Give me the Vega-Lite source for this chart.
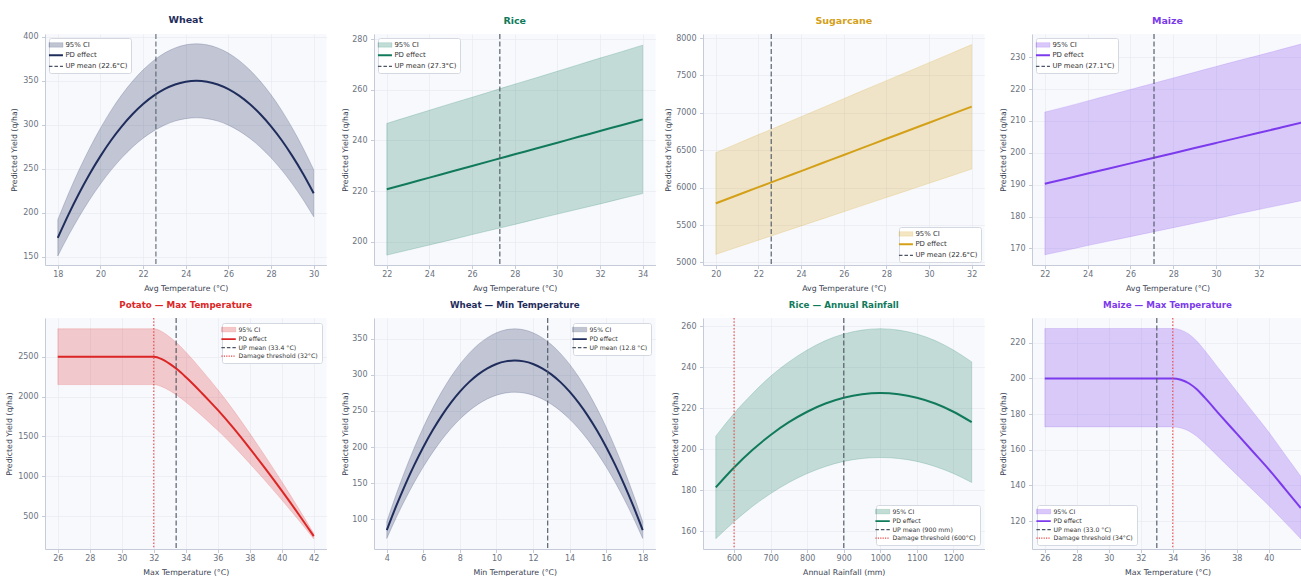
{
  "$schema": "https://vega.github.io/schema/vega-lite/v6.json",
  "padding": {"left": 5, "top": 15, "right": 0, "bottom": 0},
  "background": "#ffffff",
  "columns": 4,
  "bounds": "flush",
  "spacing": {"row": 53, "column": 47},
  "resolve": {"scale": {"color": "independent", "x": "independent", "y": "independent"}, "legend": {"color": "independent"}, "axis": {"x": "independent", "y": "independent"}},
  "datasets": {
    "wheat": [
      {"x": 18, "mean": 171.7, "lo": 151.1, "hi": 192.3},
      {"x": 18.5, "mean": 198.1, "lo": 174.3, "hi": 221.9},
      {"x": 19, "mean": 222.3, "lo": 195.6, "hi": 249.0},
      {"x": 19.5, "mean": 244.5, "lo": 215.2, "hi": 273.8},
      {"x": 20, "mean": 264.5, "lo": 232.8, "hi": 296.2},
      {"x": 20.5, "mean": 282.5, "lo": 248.6, "hi": 316.4},
      {"x": 21, "mean": 298.3, "lo": 262.5, "hi": 334.1},
      {"x": 21.5, "mean": 312.0, "lo": 274.6, "hi": 349.4},
      {"x": 22, "mean": 323.6, "lo": 284.8, "hi": 362.4},
      {"x": 22.5, "mean": 333.1, "lo": 293.1, "hi": 373.1},
      {"x": 23, "mean": 340.5, "lo": 299.6, "hi": 381.4},
      {"x": 23.5, "mean": 345.8, "lo": 304.3, "hi": 387.3},
      {"x": 24, "mean": 348.9, "lo": 307.0, "hi": 390.8},
      {"x": 24.5, "mean": 350.0, "lo": 308.0, "hi": 392.0},
      {"x": 25, "mean": 348.9, "lo": 307.0, "hi": 390.8},
      {"x": 25.5, "mean": 345.8, "lo": 304.3, "hi": 387.3},
      {"x": 26, "mean": 340.5, "lo": 299.6, "hi": 381.4},
      {"x": 26.5, "mean": 333.1, "lo": 293.1, "hi": 373.1},
      {"x": 27, "mean": 323.6, "lo": 284.8, "hi": 362.4},
      {"x": 27.5, "mean": 312.0, "lo": 274.6, "hi": 349.4},
      {"x": 28, "mean": 298.3, "lo": 262.5, "hi": 334.1},
      {"x": 28.5, "mean": 282.5, "lo": 248.6, "hi": 316.4},
      {"x": 29, "mean": 264.5, "lo": 232.8, "hi": 296.2},
      {"x": 29.5, "mean": 244.5, "lo": 215.2, "hi": 273.8},
      {"x": 30, "mean": 222.3, "lo": 195.6, "hi": 249.0}
    ],
    "rice": [
      {"x": 22, "mean": 220.7, "lo": 194.7, "hi": 246.7},
      {"x": 23, "mean": 223.0, "lo": 196.7, "hi": 249.3},
      {"x": 24, "mean": 225.3, "lo": 198.7, "hi": 251.9},
      {"x": 25, "mean": 227.6, "lo": 200.7, "hi": 254.5},
      {"x": 26, "mean": 229.9, "lo": 202.8, "hi": 257.0},
      {"x": 27, "mean": 232.2, "lo": 204.8, "hi": 259.6},
      {"x": 28, "mean": 234.5, "lo": 206.8, "hi": 262.2},
      {"x": 29, "mean": 236.8, "lo": 208.9, "hi": 264.7},
      {"x": 30, "mean": 239.1, "lo": 210.9, "hi": 267.3},
      {"x": 31, "mean": 241.4, "lo": 212.9, "hi": 269.9},
      {"x": 32, "mean": 243.7, "lo": 214.9, "hi": 272.5},
      {"x": 33, "mean": 246.0, "lo": 217.0, "hi": 275.0},
      {"x": 34, "mean": 248.3, "lo": 219.0, "hi": 277.6}
    ],
    "sugar": [
      {"x": 20, "mean": 5790, "lo": 5107, "hi": 6467},
      {"x": 21, "mean": 5898, "lo": 5202, "hi": 6588},
      {"x": 22, "mean": 6006, "lo": 5297, "hi": 6709},
      {"x": 23, "mean": 6113, "lo": 5392, "hi": 6828},
      {"x": 24, "mean": 6221, "lo": 5487, "hi": 6949},
      {"x": 25, "mean": 6329, "lo": 5582, "hi": 7069},
      {"x": 26, "mean": 6437, "lo": 5677, "hi": 7190},
      {"x": 27, "mean": 6545, "lo": 5773, "hi": 7311},
      {"x": 28, "mean": 6653, "lo": 5868, "hi": 7431},
      {"x": 29, "mean": 6760, "lo": 5962, "hi": 7551},
      {"x": 30, "mean": 6868, "lo": 6058, "hi": 7672},
      {"x": 31, "mean": 6976, "lo": 6153, "hi": 7792},
      {"x": 32, "mean": 7084, "lo": 6248, "hi": 7913}
    ],
    "maize": [
      {"x": 22, "mean": 190.3, "lo": 168.0, "hi": 212.8},
      {"x": 23, "mean": 191.9, "lo": 169.4, "hi": 214.5},
      {"x": 24, "mean": 193.5, "lo": 170.9, "hi": 216.3},
      {"x": 25, "mean": 195.1, "lo": 172.3, "hi": 218.1},
      {"x": 26, "mean": 196.7, "lo": 173.7, "hi": 219.9},
      {"x": 27, "mean": 198.3, "lo": 175.1, "hi": 221.7},
      {"x": 28, "mean": 199.9, "lo": 176.5, "hi": 223.5},
      {"x": 29, "mean": 201.5, "lo": 177.9, "hi": 225.3},
      {"x": 30, "mean": 203.1, "lo": 179.3, "hi": 227.1},
      {"x": 31, "mean": 204.7, "lo": 180.8, "hi": 228.9},
      {"x": 32, "mean": 206.3, "lo": 182.2, "hi": 230.6},
      {"x": 33, "mean": 207.9, "lo": 183.6, "hi": 232.4},
      {"x": 34, "mean": 209.5, "lo": 185.0, "hi": 234.2}
    ],
    "potato": [
      {"x": 26, "mean": 2500, "lo": 2150, "hi": 2850},
      {"x": 28, "mean": 2500, "lo": 2150, "hi": 2850},
      {"x": 30, "mean": 2500, "lo": 2150, "hi": 2850},
      {"x": 32, "mean": 2500, "lo": 2150, "hi": 2850},
      {"x": 32.5, "mean": 2470, "lo": 2124, "hi": 2816},
      {"x": 33, "mean": 2410, "lo": 2073, "hi": 2747},
      {"x": 33.5, "mean": 2335, "lo": 2008, "hi": 2662},
      {"x": 34, "mean": 2245, "lo": 1931, "hi": 2559},
      {"x": 34.5, "mean": 2148, "lo": 1847, "hi": 2449},
      {"x": 35, "mean": 2045, "lo": 1759, "hi": 2331},
      {"x": 35.5, "mean": 1940, "lo": 1668, "hi": 2212},
      {"x": 36, "mean": 1832, "lo": 1576, "hi": 2088},
      {"x": 37, "mean": 1600, "lo": 1376, "hi": 1824},
      {"x": 38, "mean": 1350, "lo": 1161, "hi": 1539},
      {"x": 39, "mean": 1090, "lo": 937, "hi": 1243},
      {"x": 40, "mean": 820, "lo": 705, "hi": 935},
      {"x": 41, "mean": 540, "lo": 464, "hi": 616},
      {"x": 42, "mean": 250, "lo": 215, "hi": 285}
    ],
    "wheatmin": [
      {"x": 4, "mean": 84.8, "lo": 73.1, "hi": 96.5},
      {"x": 4.5, "mean": 117.2, "lo": 101.1, "hi": 133.3},
      {"x": 5, "mean": 147.2, "lo": 127.0, "hi": 167.4},
      {"x": 5.5, "mean": 174.8, "lo": 150.8, "hi": 198.8},
      {"x": 6, "mean": 200.0, "lo": 172.5, "hi": 227.5},
      {"x": 6.5, "mean": 222.8, "lo": 192.2, "hi": 253.4},
      {"x": 7, "mean": 243.2, "lo": 209.8, "hi": 276.6},
      {"x": 7.5, "mean": 261.2, "lo": 225.3, "hi": 297.1},
      {"x": 8, "mean": 276.8, "lo": 238.7, "hi": 314.9},
      {"x": 8.5, "mean": 290.0, "lo": 250.1, "hi": 329.9},
      {"x": 9, "mean": 300.8, "lo": 259.4, "hi": 342.2},
      {"x": 9.5, "mean": 309.2, "lo": 266.7, "hi": 351.7},
      {"x": 10, "mean": 315.2, "lo": 271.9, "hi": 358.5},
      {"x": 10.5, "mean": 318.8, "lo": 275.0, "hi": 362.6},
      {"x": 11, "mean": 320.0, "lo": 276.0, "hi": 364.0},
      {"x": 11.5, "mean": 318.8, "lo": 275.0, "hi": 362.6},
      {"x": 12, "mean": 315.2, "lo": 271.9, "hi": 358.5},
      {"x": 12.5, "mean": 309.2, "lo": 266.7, "hi": 351.7},
      {"x": 13, "mean": 300.8, "lo": 259.4, "hi": 342.2},
      {"x": 13.5, "mean": 290.0, "lo": 250.1, "hi": 329.9},
      {"x": 14, "mean": 276.8, "lo": 238.7, "hi": 314.9},
      {"x": 14.5, "mean": 261.2, "lo": 225.3, "hi": 297.1},
      {"x": 15, "mean": 243.2, "lo": 209.8, "hi": 276.6},
      {"x": 15.5, "mean": 222.8, "lo": 192.2, "hi": 253.4},
      {"x": 16, "mean": 200.0, "lo": 172.5, "hi": 227.5},
      {"x": 16.5, "mean": 174.8, "lo": 150.8, "hi": 198.8},
      {"x": 17, "mean": 147.2, "lo": 127.0, "hi": 167.4},
      {"x": 17.5, "mean": 117.2, "lo": 101.1, "hi": 133.3},
      {"x": 18, "mean": 84.8, "lo": 73.1, "hi": 96.5}
    ],
    "ricerain": [
      {"x": 550, "mean": 181.3, "lo": 156.3, "hi": 206.3},
      {"x": 600, "mean": 191.0, "lo": 164.6, "hi": 217.4},
      {"x": 650, "mean": 199.5, "lo": 172.0, "hi": 227.0},
      {"x": 700, "mean": 206.9, "lo": 178.3, "hi": 235.5},
      {"x": 750, "mean": 213.1, "lo": 183.7, "hi": 242.5},
      {"x": 800, "mean": 218.2, "lo": 188.1, "hi": 248.3},
      {"x": 850, "mean": 222.2, "lo": 191.5, "hi": 252.9},
      {"x": 900, "mean": 225.0, "lo": 194.0, "hi": 256.1},
      {"x": 950, "mean": 226.7, "lo": 195.4, "hi": 258.0},
      {"x": 1000, "mean": 227.3, "lo": 195.9, "hi": 258.7},
      {"x": 1050, "mean": 226.7, "lo": 195.4, "hi": 258.0},
      {"x": 1100, "mean": 225.0, "lo": 194.0, "hi": 256.1},
      {"x": 1150, "mean": 222.2, "lo": 191.5, "hi": 252.9},
      {"x": 1200, "mean": 218.2, "lo": 188.1, "hi": 248.3},
      {"x": 1250, "mean": 213.1, "lo": 183.7, "hi": 242.5}
    ],
    "maizemax": [
      {"x": 26, "mean": 200, "lo": 172.8, "hi": 228},
      {"x": 28, "mean": 200, "lo": 172.8, "hi": 228},
      {"x": 30, "mean": 200, "lo": 172.8, "hi": 228},
      {"x": 32, "mean": 200, "lo": 172.8, "hi": 228},
      {"x": 34, "mean": 200, "lo": 172.8, "hi": 228},
      {"x": 34.5, "mean": 199.3, "lo": 172.2, "hi": 227.2},
      {"x": 35, "mean": 197.3, "lo": 170.5, "hi": 224.9},
      {"x": 35.5, "mean": 193.9, "lo": 167.5, "hi": 221.0},
      {"x": 36, "mean": 189.2, "lo": 163.5, "hi": 215.7},
      {"x": 37, "mean": 179.0, "lo": 154.7, "hi": 204.1},
      {"x": 38, "mean": 169.0, "lo": 146.0, "hi": 192.7},
      {"x": 39, "mean": 159.0, "lo": 137.4, "hi": 181.3},
      {"x": 40, "mean": 149.0, "lo": 128.7, "hi": 169.9},
      {"x": 41, "mean": 138.2, "lo": 119.4, "hi": 157.5},
      {"x": 42, "mean": 127.3, "lo": 110.0, "hi": 145.1}
    ],
    "refs": [
      {"panel": "wheat", "kind": "mean", "x": 22.6, "label": "UP mean (22.6°C)"},
      {"panel": "rice", "kind": "mean", "x": 27.3, "label": "UP mean (27.3°C)"},
      {"panel": "sugar", "kind": "mean", "x": 22.6, "label": "UP mean (22.6°C)"},
      {"panel": "maize", "kind": "mean", "x": 27.1, "label": "UP mean (27.1°C)"},
      {"panel": "potato", "kind": "mean", "x": 33.4, "label": "UP mean (33.4 °C)"},
      {"panel": "potato", "kind": "damage", "x": 32, "label": "Damage threshold (32°C)"},
      {"panel": "wheatmin", "kind": "mean", "x": 12.8, "label": "UP mean (12.8 °C)"},
      {"panel": "ricerain", "kind": "mean", "x": 900, "label": "UP mean (900 mm)"},
      {"panel": "ricerain", "kind": "damage", "x": 600, "label": "Damage threshold (600°C)"},
      {"panel": "maizemax", "kind": "mean", "x": 33.0, "label": "UP mean (33.0 °C)"},
      {"panel": "maizemax", "kind": "damage", "x": 34, "label": "Damage threshold (34°C)"}
    ]
  },
  "concat": [
    {
      "width": 281.5, "height": 231,
      "title": {"text": "Wheat", "color": "#1f2d5c", "fontSize": 9.5},
      "layer": [
        {"data": {"name": "wheat"},
         "mark": {"type": "area", "interpolate": "monotone", "fillOpacity": 0.25, "stroke": "#1f2d5c", "strokeOpacity": 0.25, "strokeWidth": 0.8},
         "encoding": {
           "x": {"field": "x", "type": "quantitative", "title": "Avg Temperature (°C)", "scale": {"domain": [17.4, 30.6], "nice": false, "zero": false}, "axis": {"values": [18, 20, 22, 24, 26, 28, 30], "format": "d", "labelOverlap": false}},
           "y": {"field": "lo", "type": "quantitative", "title": "Predicted Yield (q/ha)", "scale": {"domain": [140.9, 403.1], "nice": false, "zero": false}, "axis": {"values": [150, 200, 250, 300, 350, 400], "format": "d", "titlePadding": 6.5, "labelOverlap": false}},
           "y2": {"field": "hi"},
           "color": {"datum": "95% CI", "type": "nominal",
             "scale": {"domain": ["95% CI", "PD effect", "UP mean (22.6°C)"], "range": ["#1f2d5c", "#1f2d5c", "#4b5563"]},
             "legend": {"title": null, "orient": "top-left", "symbolSize": 100, "rowPadding": 2.2, "labelFontSize": 6.9, "labelOffset": 6, "encode": {"symbols": {"update": {
               "shape": {"signal": "datum.value == '95% CI' ? 'M-1.4,-0.45H1.4V0.45H-1.4Z' : 'M-1.4,0H1.4'"},
               "fill": {"signal": "datum.value == '95% CI' ? '#1f2d5c' : 'transparent'"},
               "fillOpacity": {"value": 0.28},
               "stroke": {"signal": "datum.value == '95% CI' ? '#1f2d5c' : datum.value == 'PD effect' ? '#1f2d5c' : indexof(datum.value, 'Damage') == 0 ? '#ef4444' : '#4b5563'"},
               "strokeOpacity": {"signal": "datum.value == '95% CI' ? 0.25 : 1"},
               "strokeWidth": {"signal": "datum.value == 'PD effect' ? 2 : datum.value == '95% CI' ? 0.6 : 1.2"},
               "strokeDash": {"signal": "indexof(datum.value, 'UP') == 0 ? [3.5, 2] : indexof(datum.value, 'Damage') == 0 ? [1.2, 1.2] : [1, 0]"},
               "opacity": {"value": 1}}}}}}
         }},
        {"data": {"name": "wheat"},
         "mark": {"type": "line", "interpolate": "monotone", "strokeWidth": 2},
         "encoding": {"x": {"field": "x", "type": "quantitative", "title": "Avg Temperature (°C)"}, "y": {"field": "mean", "type": "quantitative", "title": "Predicted Yield (q/ha)"},
           "color": {"datum": "PD effect", "type": "nominal",
             "legend": {"title": null, "orient": "top-left", "symbolSize": 100, "rowPadding": 2.2, "labelFontSize": 6.9, "labelOffset": 6, "encode": {"symbols": {"update": {
               "shape": {"signal": "datum.value == '95% CI' ? 'M-1.4,-0.45H1.4V0.45H-1.4Z' : 'M-1.4,0H1.4'"},
               "fill": {"signal": "datum.value == '95% CI' ? '#1f2d5c' : 'transparent'"},
               "fillOpacity": {"value": 0.28},
               "stroke": {"signal": "datum.value == '95% CI' ? '#1f2d5c' : datum.value == 'PD effect' ? '#1f2d5c' : indexof(datum.value, 'Damage') == 0 ? '#ef4444' : '#4b5563'"},
               "strokeOpacity": {"signal": "datum.value == '95% CI' ? 0.25 : 1"},
               "strokeWidth": {"signal": "datum.value == 'PD effect' ? 2 : datum.value == '95% CI' ? 0.6 : 1.2"},
               "strokeDash": {"signal": "indexof(datum.value, 'UP') == 0 ? [3.5, 2] : indexof(datum.value, 'Damage') == 0 ? [1.2, 1.2] : [1, 0]"},
               "opacity": {"value": 1}}}}}}}},
        {"data": {"name": "refs"}, "transform": [{"filter": "datum.panel == 'wheat' && datum.kind == 'mean'"}],
         "mark": {"type": "rule", "strokeDash": [5, 2.5], "strokeWidth": 1.3, "opacity": 0.75},
         "encoding": {"x": {"field": "x", "type": "quantitative", "title": "Avg Temperature (°C)"},
           "color": {"field": "label", "type": "nominal",
             "legend": {"title": null, "orient": "top-left", "symbolSize": 100, "rowPadding": 2.2, "labelFontSize": 6.9, "labelOffset": 6, "encode": {"symbols": {"update": {
               "shape": {"signal": "datum.value == '95% CI' ? 'M-1.4,-0.45H1.4V0.45H-1.4Z' : 'M-1.4,0H1.4'"},
               "fill": {"signal": "datum.value == '95% CI' ? '#1f2d5c' : 'transparent'"},
               "fillOpacity": {"value": 0.28},
               "stroke": {"signal": "datum.value == '95% CI' ? '#1f2d5c' : datum.value == 'PD effect' ? '#1f2d5c' : indexof(datum.value, 'Damage') == 0 ? '#ef4444' : '#4b5563'"},
               "strokeOpacity": {"signal": "datum.value == '95% CI' ? 0.25 : 1"},
               "strokeWidth": {"signal": "datum.value == 'PD effect' ? 2 : datum.value == '95% CI' ? 0.6 : 1.2"},
               "strokeDash": {"signal": "indexof(datum.value, 'UP') == 0 ? [3.5, 2] : indexof(datum.value, 'Damage') == 0 ? [1.2, 1.2] : [1, 0]"},
               "opacity": {"value": 1}}}}}}}}
      ]
    },
    {
      "width": 281.5, "height": 231,
      "title": {"text": "Rice", "color": "#117a5b", "fontSize": 9.5},
      "layer": [
        {"data": {"name": "rice"},
         "mark": {"type": "area", "interpolate": "monotone", "fillOpacity": 0.23, "stroke": "#117a5b", "strokeOpacity": 0.25, "strokeWidth": 0.8},
         "encoding": {
           "x": {"field": "x", "type": "quantitative", "title": "Avg Temperature (°C)", "scale": {"domain": [21.4, 34.6], "nice": false, "zero": false}, "axis": {"values": [22, 24, 26, 28, 30, 32, 34], "format": "d", "labelOverlap": false}},
           "y": {"field": "lo", "type": "quantitative", "title": "Predicted Yield (q/ha)", "scale": {"domain": [190.8, 282], "nice": false, "zero": false}, "axis": {"values": [200, 220, 240, 260, 280], "format": "d", "titlePadding": 4.5, "labelOverlap": false}},
           "y2": {"field": "hi"},
           "color": {"datum": "95% CI", "type": "nominal",
             "scale": {"domain": ["95% CI", "PD effect", "UP mean (27.3°C)"], "range": ["#117a5b", "#117a5b", "#4b5563"]},
             "legend": {"title": null, "orient": "top-left", "symbolSize": 100, "rowPadding": 2.2, "labelFontSize": 6.9, "labelOffset": 6, "encode": {"symbols": {"update": {
               "shape": {"signal": "datum.value == '95% CI' ? 'M-1.4,-0.45H1.4V0.45H-1.4Z' : 'M-1.4,0H1.4'"},
               "fill": {"signal": "datum.value == '95% CI' ? '#117a5b' : 'transparent'"},
               "fillOpacity": {"value": 0.26},
               "stroke": {"signal": "datum.value == '95% CI' ? '#117a5b' : datum.value == 'PD effect' ? '#117a5b' : indexof(datum.value, 'Damage') == 0 ? '#ef4444' : '#4b5563'"},
               "strokeOpacity": {"signal": "datum.value == '95% CI' ? 0.25 : 1"},
               "strokeWidth": {"signal": "datum.value == 'PD effect' ? 2 : datum.value == '95% CI' ? 0.6 : 1.2"},
               "strokeDash": {"signal": "indexof(datum.value, 'UP') == 0 ? [3.5, 2] : indexof(datum.value, 'Damage') == 0 ? [1.2, 1.2] : [1, 0]"},
               "opacity": {"value": 1}}}}}}
         }},
        {"data": {"name": "rice"},
         "mark": {"type": "line", "interpolate": "monotone", "strokeWidth": 2},
         "encoding": {"x": {"field": "x", "type": "quantitative", "title": "Avg Temperature (°C)"}, "y": {"field": "mean", "type": "quantitative", "title": "Predicted Yield (q/ha)"},
           "color": {"datum": "PD effect", "type": "nominal",
             "legend": {"title": null, "orient": "top-left", "symbolSize": 100, "rowPadding": 2.2, "labelFontSize": 6.9, "labelOffset": 6, "encode": {"symbols": {"update": {
               "shape": {"signal": "datum.value == '95% CI' ? 'M-1.4,-0.45H1.4V0.45H-1.4Z' : 'M-1.4,0H1.4'"},
               "fill": {"signal": "datum.value == '95% CI' ? '#117a5b' : 'transparent'"},
               "fillOpacity": {"value": 0.26},
               "stroke": {"signal": "datum.value == '95% CI' ? '#117a5b' : datum.value == 'PD effect' ? '#117a5b' : indexof(datum.value, 'Damage') == 0 ? '#ef4444' : '#4b5563'"},
               "strokeOpacity": {"signal": "datum.value == '95% CI' ? 0.25 : 1"},
               "strokeWidth": {"signal": "datum.value == 'PD effect' ? 2 : datum.value == '95% CI' ? 0.6 : 1.2"},
               "strokeDash": {"signal": "indexof(datum.value, 'UP') == 0 ? [3.5, 2] : indexof(datum.value, 'Damage') == 0 ? [1.2, 1.2] : [1, 0]"},
               "opacity": {"value": 1}}}}}}}},
        {"data": {"name": "refs"}, "transform": [{"filter": "datum.panel == 'rice' && datum.kind == 'mean'"}],
         "mark": {"type": "rule", "strokeDash": [5, 2.5], "strokeWidth": 1.3, "opacity": 0.85},
         "encoding": {"x": {"field": "x", "type": "quantitative", "title": "Avg Temperature (°C)"},
           "color": {"field": "label", "type": "nominal",
             "legend": {"title": null, "orient": "top-left", "symbolSize": 100, "rowPadding": 2.2, "labelFontSize": 6.9, "labelOffset": 6, "encode": {"symbols": {"update": {
               "shape": {"signal": "datum.value == '95% CI' ? 'M-1.4,-0.45H1.4V0.45H-1.4Z' : 'M-1.4,0H1.4'"},
               "fill": {"signal": "datum.value == '95% CI' ? '#117a5b' : 'transparent'"},
               "fillOpacity": {"value": 0.26},
               "stroke": {"signal": "datum.value == '95% CI' ? '#117a5b' : datum.value == 'PD effect' ? '#117a5b' : indexof(datum.value, 'Damage') == 0 ? '#ef4444' : '#4b5563'"},
               "strokeOpacity": {"signal": "datum.value == '95% CI' ? 0.25 : 1"},
               "strokeWidth": {"signal": "datum.value == 'PD effect' ? 2 : datum.value == '95% CI' ? 0.6 : 1.2"},
               "strokeDash": {"signal": "indexof(datum.value, 'UP') == 0 ? [3.5, 2] : indexof(datum.value, 'Damage') == 0 ? [1.2, 1.2] : [1, 0]"},
               "opacity": {"value": 1}}}}}}}}
      ]
    },
    {
      "width": 281.5, "height": 231,
      "title": {"text": "Sugarcane", "color": "#d4a017", "fontSize": 9.5},
      "layer": [
        {"data": {"name": "sugar"},
         "mark": {"type": "area", "interpolate": "monotone", "fillOpacity": 0.23, "stroke": "#d4a017", "strokeOpacity": 0.25, "strokeWidth": 0.8},
         "encoding": {
           "x": {"field": "x", "type": "quantitative", "title": "Avg Temperature (°C)", "scale": {"domain": [19.4, 32.6], "nice": false, "zero": false}, "axis": {"values": [20, 22, 24, 26, 28, 30, 32], "format": "d", "labelOverlap": false}},
           "y": {"field": "lo", "type": "quantitative", "title": "Predicted Yield (q/ha)", "scale": {"domain": [4965, 8055], "nice": false, "zero": false}, "axis": {"values": [5000, 5500, 6000, 6500, 7000, 7500, 8000], "format": "d", "titlePadding": 10.5, "labelOverlap": false}},
           "y2": {"field": "hi"},
           "color": {"datum": "95% CI", "type": "nominal",
             "scale": {"domain": ["95% CI", "PD effect", "UP mean (22.6°C)"], "range": ["#d4a017", "#d4a017", "#4b5563"]},
             "legend": {"title": null, "orient": "bottom-right", "symbolSize": 100, "rowPadding": 2.2, "labelFontSize": 6.9, "labelOffset": 6, "encode": {"symbols": {"update": {
               "shape": {"signal": "datum.value == '95% CI' ? 'M-1.4,-0.45H1.4V0.45H-1.4Z' : 'M-1.4,0H1.4'"},
               "fill": {"signal": "datum.value == '95% CI' ? '#d4a017' : 'transparent'"},
               "fillOpacity": {"value": 0.26},
               "stroke": {"signal": "datum.value == '95% CI' ? '#d4a017' : datum.value == 'PD effect' ? '#d4a017' : indexof(datum.value, 'Damage') == 0 ? '#ef4444' : '#4b5563'"},
               "strokeOpacity": {"signal": "datum.value == '95% CI' ? 0.25 : 1"},
               "strokeWidth": {"signal": "datum.value == 'PD effect' ? 2 : datum.value == '95% CI' ? 0.6 : 1.2"},
               "strokeDash": {"signal": "indexof(datum.value, 'UP') == 0 ? [3.5, 2] : indexof(datum.value, 'Damage') == 0 ? [1.2, 1.2] : [1, 0]"},
               "opacity": {"value": 1}}}}}}
         }},
        {"data": {"name": "sugar"},
         "mark": {"type": "line", "interpolate": "monotone", "strokeWidth": 2},
         "encoding": {"x": {"field": "x", "type": "quantitative", "title": "Avg Temperature (°C)"}, "y": {"field": "mean", "type": "quantitative", "title": "Predicted Yield (q/ha)"},
           "color": {"datum": "PD effect", "type": "nominal",
             "legend": {"title": null, "orient": "bottom-right", "symbolSize": 100, "rowPadding": 2.2, "labelFontSize": 6.9, "labelOffset": 6, "encode": {"symbols": {"update": {
               "shape": {"signal": "datum.value == '95% CI' ? 'M-1.4,-0.45H1.4V0.45H-1.4Z' : 'M-1.4,0H1.4'"},
               "fill": {"signal": "datum.value == '95% CI' ? '#d4a017' : 'transparent'"},
               "fillOpacity": {"value": 0.26},
               "stroke": {"signal": "datum.value == '95% CI' ? '#d4a017' : datum.value == 'PD effect' ? '#d4a017' : indexof(datum.value, 'Damage') == 0 ? '#ef4444' : '#4b5563'"},
               "strokeOpacity": {"signal": "datum.value == '95% CI' ? 0.25 : 1"},
               "strokeWidth": {"signal": "datum.value == 'PD effect' ? 2 : datum.value == '95% CI' ? 0.6 : 1.2"},
               "strokeDash": {"signal": "indexof(datum.value, 'UP') == 0 ? [3.5, 2] : indexof(datum.value, 'Damage') == 0 ? [1.2, 1.2] : [1, 0]"},
               "opacity": {"value": 1}}}}}}}},
        {"data": {"name": "refs"}, "transform": [{"filter": "datum.panel == 'sugar' && datum.kind == 'mean'"}],
         "mark": {"type": "rule", "strokeDash": [5, 2.5], "strokeWidth": 1.3, "opacity": 0.85},
         "encoding": {"x": {"field": "x", "type": "quantitative", "title": "Avg Temperature (°C)"},
           "color": {"field": "label", "type": "nominal",
             "legend": {"title": null, "orient": "bottom-right", "symbolSize": 100, "rowPadding": 2.2, "labelFontSize": 6.9, "labelOffset": 6, "encode": {"symbols": {"update": {
               "shape": {"signal": "datum.value == '95% CI' ? 'M-1.4,-0.45H1.4V0.45H-1.4Z' : 'M-1.4,0H1.4'"},
               "fill": {"signal": "datum.value == '95% CI' ? '#d4a017' : 'transparent'"},
               "fillOpacity": {"value": 0.26},
               "stroke": {"signal": "datum.value == '95% CI' ? '#d4a017' : datum.value == 'PD effect' ? '#d4a017' : indexof(datum.value, 'Damage') == 0 ? '#ef4444' : '#4b5563'"},
               "strokeOpacity": {"signal": "datum.value == '95% CI' ? 0.25 : 1"},
               "strokeWidth": {"signal": "datum.value == 'PD effect' ? 2 : datum.value == '95% CI' ? 0.6 : 1.2"},
               "strokeDash": {"signal": "indexof(datum.value, 'UP') == 0 ? [3.5, 2] : indexof(datum.value, 'Damage') == 0 ? [1.2, 1.2] : [1, 0]"},
               "opacity": {"value": 1}}}}}}}}
      ]
    },
    {
      "width": 271, "height": 231,
      "title": {"text": "Maize", "color": "#7c3aed", "fontSize": 9.5},
      "layer": [
        {"data": {"name": "maize"},
         "mark": {"type": "area", "interpolate": "monotone", "fillOpacity": 0.25, "stroke": "#7c3aed", "strokeOpacity": 0.2, "strokeWidth": 0.8, "clip": true},
         "encoding": {
           "x": {"field": "x", "type": "quantitative", "title": "Avg Temperature (°C)", "scale": {"domain": [21.4, 34.06], "nice": false, "zero": false}, "axis": {"values": [22, 24, 26, 28, 30, 32], "format": "d", "labelOverlap": false}},
           "y": {"field": "lo", "type": "quantitative", "title": "Predicted Yield (q/ha)", "scale": {"domain": [164.8, 237.3], "nice": false, "zero": false}, "axis": {"values": [170, 180, 190, 200, 210, 220, 230], "format": "d", "titlePadding": 4.5, "labelOverlap": false}},
           "y2": {"field": "hi"},
           "color": {"datum": "95% CI", "type": "nominal",
             "scale": {"domain": ["95% CI", "PD effect", "UP mean (27.1°C)"], "range": ["#7c3aed", "#7c3aed", "#4b5563"]},
             "legend": {"title": null, "orient": "top-left", "symbolSize": 100, "rowPadding": 2.2, "labelFontSize": 6.9, "labelOffset": 6, "encode": {"symbols": {"update": {
               "shape": {"signal": "datum.value == '95% CI' ? 'M-1.4,-0.45H1.4V0.45H-1.4Z' : 'M-1.4,0H1.4'"},
               "fill": {"signal": "datum.value == '95% CI' ? '#7c3aed' : 'transparent'"},
               "fillOpacity": {"value": 0.28},
               "stroke": {"signal": "datum.value == '95% CI' ? '#7c3aed' : datum.value == 'PD effect' ? '#7c3aed' : indexof(datum.value, 'Damage') == 0 ? '#ef4444' : '#4b5563'"},
               "strokeOpacity": {"signal": "datum.value == '95% CI' ? 0.25 : 1"},
               "strokeWidth": {"signal": "datum.value == 'PD effect' ? 2 : datum.value == '95% CI' ? 0.6 : 1.2"},
               "strokeDash": {"signal": "indexof(datum.value, 'UP') == 0 ? [3.5, 2] : indexof(datum.value, 'Damage') == 0 ? [1.2, 1.2] : [1, 0]"},
               "opacity": {"value": 1}}}}}}
         }},
        {"data": {"name": "maize"},
         "mark": {"type": "line", "interpolate": "monotone", "strokeWidth": 2, "clip": true},
         "encoding": {"x": {"field": "x", "type": "quantitative", "title": "Avg Temperature (°C)"}, "y": {"field": "mean", "type": "quantitative", "title": "Predicted Yield (q/ha)"},
           "color": {"datum": "PD effect", "type": "nominal",
             "legend": {"title": null, "orient": "top-left", "symbolSize": 100, "rowPadding": 2.2, "labelFontSize": 6.9, "labelOffset": 6, "encode": {"symbols": {"update": {
               "shape": {"signal": "datum.value == '95% CI' ? 'M-1.4,-0.45H1.4V0.45H-1.4Z' : 'M-1.4,0H1.4'"},
               "fill": {"signal": "datum.value == '95% CI' ? '#7c3aed' : 'transparent'"},
               "fillOpacity": {"value": 0.28},
               "stroke": {"signal": "datum.value == '95% CI' ? '#7c3aed' : datum.value == 'PD effect' ? '#7c3aed' : indexof(datum.value, 'Damage') == 0 ? '#ef4444' : '#4b5563'"},
               "strokeOpacity": {"signal": "datum.value == '95% CI' ? 0.25 : 1"},
               "strokeWidth": {"signal": "datum.value == 'PD effect' ? 2 : datum.value == '95% CI' ? 0.6 : 1.2"},
               "strokeDash": {"signal": "indexof(datum.value, 'UP') == 0 ? [3.5, 2] : indexof(datum.value, 'Damage') == 0 ? [1.2, 1.2] : [1, 0]"},
               "opacity": {"value": 1}}}}}}}},
        {"data": {"name": "refs"}, "transform": [{"filter": "datum.panel == 'maize' && datum.kind == 'mean'"}],
         "mark": {"type": "rule", "strokeDash": [5, 2.5], "strokeWidth": 1.3, "opacity": 0.85},
         "encoding": {"x": {"field": "x", "type": "quantitative", "title": "Avg Temperature (°C)"},
           "color": {"field": "label", "type": "nominal",
             "legend": {"title": null, "orient": "top-left", "symbolSize": 100, "rowPadding": 2.2, "labelFontSize": 6.9, "labelOffset": 6, "encode": {"symbols": {"update": {
               "shape": {"signal": "datum.value == '95% CI' ? 'M-1.4,-0.45H1.4V0.45H-1.4Z' : 'M-1.4,0H1.4'"},
               "fill": {"signal": "datum.value == '95% CI' ? '#7c3aed' : 'transparent'"},
               "fillOpacity": {"value": 0.28},
               "stroke": {"signal": "datum.value == '95% CI' ? '#7c3aed' : datum.value == 'PD effect' ? '#7c3aed' : indexof(datum.value, 'Damage') == 0 ? '#ef4444' : '#4b5563'"},
               "strokeOpacity": {"signal": "datum.value == '95% CI' ? 0.25 : 1"},
               "strokeWidth": {"signal": "datum.value == 'PD effect' ? 2 : datum.value == '95% CI' ? 0.6 : 1.2"},
               "strokeDash": {"signal": "indexof(datum.value, 'UP') == 0 ? [3.5, 2] : indexof(datum.value, 'Damage') == 0 ? [1.2, 1.2] : [1, 0]"},
               "opacity": {"value": 1}}}}}}}}
      ]
    },
    {
      "width": 281.5, "height": 231,
      "title": {"text": "Potato — Max Temperature", "color": "#dc2626", "fontSize": 8.7},
      "layer": [
        {"data": {"name": "potato"},
         "mark": {"type": "area", "interpolate": "monotone", "fillOpacity": 0.23, "stroke": "#dc2626", "strokeOpacity": 0.2, "strokeWidth": 0.8},
         "encoding": {
           "x": {"field": "x", "type": "quantitative", "title": "Max Temperature (°C)", "scale": {"domain": [25.2, 42.8], "nice": false, "zero": false}, "axis": {"values": [26, 28, 30, 32, 34, 36, 38, 40, 42], "format": "d", "labelOverlap": false}},
           "y": {"field": "lo", "type": "quantitative", "title": "Predicted Yield (q/ha)", "scale": {"domain": [88, 2985], "nice": false, "zero": false}, "axis": {"values": [500, 1000, 1500, 2000, 2500], "format": "d", "titlePadding": 11.8, "labelOverlap": false}},
           "y2": {"field": "hi"},
           "color": {"datum": "95% CI", "type": "nominal",
             "scale": {"domain": ["95% CI", "PD effect", "UP mean (33.4 °C)", "Damage threshold (32°C)"], "range": ["#dc2626", "#dc2626", "#4b5563", "#ef4444"]},
             "legend": {"title": null, "orient": "top-right", "offset": 4.5, "labelFontSize": 6.2, "symbolSize": 81, "rowPadding": 1.5, "labelOffset": 6.7, "encode": {"symbols": {"update": {
               "shape": {"signal": "datum.value == '95% CI' ? 'M-1.6,-0.5H1.6V0.5H-1.6Z' : 'M-1.6,0H1.6'"},
               "fill": {"signal": "datum.value == '95% CI' ? '#dc2626' : 'transparent'"},
               "fillOpacity": {"value": 0.26},
               "stroke": {"signal": "datum.value == '95% CI' ? '#dc2626' : datum.value == 'PD effect' ? '#dc2626' : indexof(datum.value, 'Damage') == 0 ? '#ef4444' : '#4b5563'"},
               "strokeOpacity": {"signal": "datum.value == '95% CI' ? 0.25 : 1"},
               "strokeWidth": {"signal": "datum.value == 'PD effect' ? 1.8 : datum.value == '95% CI' ? 0.6 : 1.1"},
               "strokeDash": {"signal": "indexof(datum.value, 'UP') == 0 ? [3.5, 2] : indexof(datum.value, 'Damage') == 0 ? [1.2, 1.2] : [1, 0]"},
               "opacity": {"value": 1}}}}}}
         }},
        {"data": {"name": "potato"},
         "mark": {"type": "line", "interpolate": "monotone", "strokeWidth": 2},
         "encoding": {"x": {"field": "x", "type": "quantitative", "title": "Max Temperature (°C)"}, "y": {"field": "mean", "type": "quantitative", "title": "Predicted Yield (q/ha)"},
           "color": {"datum": "PD effect", "type": "nominal",
             "legend": {"title": null, "orient": "top-right", "offset": 4.5, "labelFontSize": 6.2, "symbolSize": 81, "rowPadding": 1.5, "labelOffset": 6.7, "encode": {"symbols": {"update": {
               "shape": {"signal": "datum.value == '95% CI' ? 'M-1.6,-0.5H1.6V0.5H-1.6Z' : 'M-1.6,0H1.6'"},
               "fill": {"signal": "datum.value == '95% CI' ? '#dc2626' : 'transparent'"},
               "fillOpacity": {"value": 0.26},
               "stroke": {"signal": "datum.value == '95% CI' ? '#dc2626' : datum.value == 'PD effect' ? '#dc2626' : indexof(datum.value, 'Damage') == 0 ? '#ef4444' : '#4b5563'"},
               "strokeOpacity": {"signal": "datum.value == '95% CI' ? 0.25 : 1"},
               "strokeWidth": {"signal": "datum.value == 'PD effect' ? 1.8 : datum.value == '95% CI' ? 0.6 : 1.1"},
               "strokeDash": {"signal": "indexof(datum.value, 'UP') == 0 ? [3.5, 2] : indexof(datum.value, 'Damage') == 0 ? [1.2, 1.2] : [1, 0]"},
               "opacity": {"value": 1}}}}}}}},
        {"data": {"name": "refs"}, "transform": [{"filter": "datum.panel == 'potato' && datum.kind == 'mean'"}],
         "mark": {"type": "rule", "strokeDash": [5, 2.5], "strokeWidth": 1.3, "opacity": 0.85},
         "encoding": {"x": {"field": "x", "type": "quantitative", "title": "Max Temperature (°C)"},
           "color": {"field": "label", "type": "nominal",
             "legend": {"title": null, "orient": "top-right", "offset": 4.5, "labelFontSize": 6.2, "symbolSize": 81, "rowPadding": 1.5, "labelOffset": 6.7, "encode": {"symbols": {"update": {
               "shape": {"signal": "datum.value == '95% CI' ? 'M-1.6,-0.5H1.6V0.5H-1.6Z' : 'M-1.6,0H1.6'"},
               "fill": {"signal": "datum.value == '95% CI' ? '#dc2626' : 'transparent'"},
               "fillOpacity": {"value": 0.26},
               "stroke": {"signal": "datum.value == '95% CI' ? '#dc2626' : datum.value == 'PD effect' ? '#dc2626' : indexof(datum.value, 'Damage') == 0 ? '#ef4444' : '#4b5563'"},
               "strokeOpacity": {"signal": "datum.value == '95% CI' ? 0.25 : 1"},
               "strokeWidth": {"signal": "datum.value == 'PD effect' ? 1.8 : datum.value == '95% CI' ? 0.6 : 1.1"},
               "strokeDash": {"signal": "indexof(datum.value, 'UP') == 0 ? [3.5, 2] : indexof(datum.value, 'Damage') == 0 ? [1.2, 1.2] : [1, 0]"},
               "opacity": {"value": 1}}}}}}}},
        {"data": {"name": "refs"}, "transform": [{"filter": "datum.panel == 'potato' && datum.kind == 'damage'"}],
         "mark": {"type": "rule", "strokeDash": [1.5, 1.8], "strokeWidth": 1.1},
         "encoding": {"x": {"field": "x", "type": "quantitative", "title": "Max Temperature (°C)"},
           "color": {"field": "label", "type": "nominal",
             "legend": {"title": null, "orient": "top-right", "offset": 4.5, "labelFontSize": 6.2, "symbolSize": 81, "rowPadding": 1.5, "labelOffset": 6.7, "encode": {"symbols": {"update": {
               "shape": {"signal": "datum.value == '95% CI' ? 'M-1.6,-0.5H1.6V0.5H-1.6Z' : 'M-1.6,0H1.6'"},
               "fill": {"signal": "datum.value == '95% CI' ? '#dc2626' : 'transparent'"},
               "fillOpacity": {"value": 0.26},
               "stroke": {"signal": "datum.value == '95% CI' ? '#dc2626' : datum.value == 'PD effect' ? '#dc2626' : indexof(datum.value, 'Damage') == 0 ? '#ef4444' : '#4b5563'"},
               "strokeOpacity": {"signal": "datum.value == '95% CI' ? 0.25 : 1"},
               "strokeWidth": {"signal": "datum.value == 'PD effect' ? 1.8 : datum.value == '95% CI' ? 0.6 : 1.1"},
               "strokeDash": {"signal": "indexof(datum.value, 'UP') == 0 ? [3.5, 2] : indexof(datum.value, 'Damage') == 0 ? [1.2, 1.2] : [1, 0]"},
               "opacity": {"value": 1}}}}}}}}
      ]
    },
    {
      "width": 281.5, "height": 231,
      "title": {"text": "Wheat — Min Temperature", "color": "#1f2d5c", "fontSize": 8.7},
      "layer": [
        {"data": {"name": "wheatmin"},
         "mark": {"type": "area", "interpolate": "monotone", "fillOpacity": 0.25, "stroke": "#1f2d5c", "strokeOpacity": 0.25, "strokeWidth": 0.8},
         "encoding": {
           "x": {"field": "x", "type": "quantitative", "title": "Min Temperature (°C)", "scale": {"domain": [3.3, 18.7], "nice": false, "zero": false}, "axis": {"values": [4, 6, 8, 10, 12, 14, 16, 18], "format": "d", "labelOverlap": false}},
           "y": {"field": "lo", "type": "quantitative", "title": "Predicted Yield (q/ha)", "scale": {"domain": [58.5, 379], "nice": false, "zero": false}, "axis": {"values": [100, 150, 200, 250, 300, 350], "format": "d", "titlePadding": 4.3, "labelOverlap": false}},
           "y2": {"field": "hi"},
           "color": {"datum": "95% CI", "type": "nominal",
             "scale": {"domain": ["95% CI", "PD effect", "UP mean (12.8 °C)"], "range": ["#1f2d5c", "#1f2d5c", "#4b5563"]},
             "legend": {"title": null, "orient": "top-right", "offset": 4.5, "labelFontSize": 6.2, "symbolSize": 81, "rowPadding": 1.5, "labelOffset": 6.7, "encode": {"symbols": {"update": {
               "shape": {"signal": "datum.value == '95% CI' ? 'M-1.6,-0.5H1.6V0.5H-1.6Z' : 'M-1.6,0H1.6'"},
               "fill": {"signal": "datum.value == '95% CI' ? '#1f2d5c' : 'transparent'"},
               "fillOpacity": {"value": 0.28},
               "stroke": {"signal": "datum.value == '95% CI' ? '#1f2d5c' : datum.value == 'PD effect' ? '#1f2d5c' : indexof(datum.value, 'Damage') == 0 ? '#ef4444' : '#4b5563'"},
               "strokeOpacity": {"signal": "datum.value == '95% CI' ? 0.25 : 1"},
               "strokeWidth": {"signal": "datum.value == 'PD effect' ? 1.8 : datum.value == '95% CI' ? 0.6 : 1.1"},
               "strokeDash": {"signal": "indexof(datum.value, 'UP') == 0 ? [3.5, 2] : indexof(datum.value, 'Damage') == 0 ? [1.2, 1.2] : [1, 0]"},
               "opacity": {"value": 1}}}}}}
         }},
        {"data": {"name": "wheatmin"},
         "mark": {"type": "line", "interpolate": "monotone", "strokeWidth": 2},
         "encoding": {"x": {"field": "x", "type": "quantitative", "title": "Min Temperature (°C)"}, "y": {"field": "mean", "type": "quantitative", "title": "Predicted Yield (q/ha)"},
           "color": {"datum": "PD effect", "type": "nominal",
             "legend": {"title": null, "orient": "top-right", "offset": 4.5, "labelFontSize": 6.2, "symbolSize": 81, "rowPadding": 1.5, "labelOffset": 6.7, "encode": {"symbols": {"update": {
               "shape": {"signal": "datum.value == '95% CI' ? 'M-1.6,-0.5H1.6V0.5H-1.6Z' : 'M-1.6,0H1.6'"},
               "fill": {"signal": "datum.value == '95% CI' ? '#1f2d5c' : 'transparent'"},
               "fillOpacity": {"value": 0.28},
               "stroke": {"signal": "datum.value == '95% CI' ? '#1f2d5c' : datum.value == 'PD effect' ? '#1f2d5c' : indexof(datum.value, 'Damage') == 0 ? '#ef4444' : '#4b5563'"},
               "strokeOpacity": {"signal": "datum.value == '95% CI' ? 0.25 : 1"},
               "strokeWidth": {"signal": "datum.value == 'PD effect' ? 1.8 : datum.value == '95% CI' ? 0.6 : 1.1"},
               "strokeDash": {"signal": "indexof(datum.value, 'UP') == 0 ? [3.5, 2] : indexof(datum.value, 'Damage') == 0 ? [1.2, 1.2] : [1, 0]"},
               "opacity": {"value": 1}}}}}}}},
        {"data": {"name": "refs"}, "transform": [{"filter": "datum.panel == 'wheatmin' && datum.kind == 'mean'"}],
         "mark": {"type": "rule", "strokeDash": [5, 2.5], "strokeWidth": 1.3, "opacity": 0.85},
         "encoding": {"x": {"field": "x", "type": "quantitative", "title": "Min Temperature (°C)"},
           "color": {"field": "label", "type": "nominal",
             "legend": {"title": null, "orient": "top-right", "offset": 4.5, "labelFontSize": 6.2, "symbolSize": 81, "rowPadding": 1.5, "labelOffset": 6.7, "encode": {"symbols": {"update": {
               "shape": {"signal": "datum.value == '95% CI' ? 'M-1.6,-0.5H1.6V0.5H-1.6Z' : 'M-1.6,0H1.6'"},
               "fill": {"signal": "datum.value == '95% CI' ? '#1f2d5c' : 'transparent'"},
               "fillOpacity": {"value": 0.28},
               "stroke": {"signal": "datum.value == '95% CI' ? '#1f2d5c' : datum.value == 'PD effect' ? '#1f2d5c' : indexof(datum.value, 'Damage') == 0 ? '#ef4444' : '#4b5563'"},
               "strokeOpacity": {"signal": "datum.value == '95% CI' ? 0.25 : 1"},
               "strokeWidth": {"signal": "datum.value == 'PD effect' ? 1.8 : datum.value == '95% CI' ? 0.6 : 1.1"},
               "strokeDash": {"signal": "indexof(datum.value, 'UP') == 0 ? [3.5, 2] : indexof(datum.value, 'Damage') == 0 ? [1.2, 1.2] : [1, 0]"},
               "opacity": {"value": 1}}}}}}}}
      ]
    },
    {
      "width": 281.5, "height": 231,
      "title": {"text": "Rice — Annual Rainfall", "color": "#117a5b", "fontSize": 8.7},
      "layer": [
        {"data": {"name": "ricerain"},
         "mark": {"type": "area", "interpolate": "monotone", "fillOpacity": 0.23, "stroke": "#117a5b", "strokeOpacity": 0.25, "strokeWidth": 0.8},
         "encoding": {
           "x": {"field": "x", "type": "quantitative", "title": "Annual Rainfall (mm)", "scale": {"domain": [515, 1285], "nice": false, "zero": false}, "axis": {"values": [600, 700, 800, 900, 1000, 1100, 1200], "format": "d", "labelOverlap": false}},
           "y": {"field": "lo", "type": "quantitative", "title": "Predicted Yield (q/ha)", "scale": {"domain": [151.3, 263.9], "nice": false, "zero": false}, "axis": {"values": [160, 180, 200, 220, 240, 260], "format": "d", "titlePadding": 3.5, "labelOverlap": false}},
           "y2": {"field": "hi"},
           "color": {"datum": "95% CI", "type": "nominal",
             "scale": {"domain": ["95% CI", "PD effect", "UP mean (900 mm)", "Damage threshold (600°C)"], "range": ["#117a5b", "#117a5b", "#4b5563", "#ef4444"]},
             "legend": {"title": null, "orient": "bottom-right", "offset": 4.5, "labelFontSize": 6.2, "symbolSize": 81, "rowPadding": 1.5, "labelOffset": 6.7, "encode": {"symbols": {"update": {
               "shape": {"signal": "datum.value == '95% CI' ? 'M-1.6,-0.5H1.6V0.5H-1.6Z' : 'M-1.6,0H1.6'"},
               "fill": {"signal": "datum.value == '95% CI' ? '#117a5b' : 'transparent'"},
               "fillOpacity": {"value": 0.26},
               "stroke": {"signal": "datum.value == '95% CI' ? '#117a5b' : datum.value == 'PD effect' ? '#117a5b' : indexof(datum.value, 'Damage') == 0 ? '#ef4444' : '#4b5563'"},
               "strokeOpacity": {"signal": "datum.value == '95% CI' ? 0.25 : 1"},
               "strokeWidth": {"signal": "datum.value == 'PD effect' ? 1.8 : datum.value == '95% CI' ? 0.6 : 1.1"},
               "strokeDash": {"signal": "indexof(datum.value, 'UP') == 0 ? [3.5, 2] : indexof(datum.value, 'Damage') == 0 ? [1.2, 1.2] : [1, 0]"},
               "opacity": {"value": 1}}}}}}
         }},
        {"data": {"name": "ricerain"},
         "mark": {"type": "line", "interpolate": "monotone", "strokeWidth": 2},
         "encoding": {"x": {"field": "x", "type": "quantitative", "title": "Annual Rainfall (mm)"}, "y": {"field": "mean", "type": "quantitative", "title": "Predicted Yield (q/ha)"},
           "color": {"datum": "PD effect", "type": "nominal",
             "legend": {"title": null, "orient": "bottom-right", "offset": 4.5, "labelFontSize": 6.2, "symbolSize": 81, "rowPadding": 1.5, "labelOffset": 6.7, "encode": {"symbols": {"update": {
               "shape": {"signal": "datum.value == '95% CI' ? 'M-1.6,-0.5H1.6V0.5H-1.6Z' : 'M-1.6,0H1.6'"},
               "fill": {"signal": "datum.value == '95% CI' ? '#117a5b' : 'transparent'"},
               "fillOpacity": {"value": 0.26},
               "stroke": {"signal": "datum.value == '95% CI' ? '#117a5b' : datum.value == 'PD effect' ? '#117a5b' : indexof(datum.value, 'Damage') == 0 ? '#ef4444' : '#4b5563'"},
               "strokeOpacity": {"signal": "datum.value == '95% CI' ? 0.25 : 1"},
               "strokeWidth": {"signal": "datum.value == 'PD effect' ? 1.8 : datum.value == '95% CI' ? 0.6 : 1.1"},
               "strokeDash": {"signal": "indexof(datum.value, 'UP') == 0 ? [3.5, 2] : indexof(datum.value, 'Damage') == 0 ? [1.2, 1.2] : [1, 0]"},
               "opacity": {"value": 1}}}}}}}},
        {"data": {"name": "refs"}, "transform": [{"filter": "datum.panel == 'ricerain' && datum.kind == 'mean'"}],
         "mark": {"type": "rule", "strokeDash": [5, 2.5], "strokeWidth": 1.3, "opacity": 0.85},
         "encoding": {"x": {"field": "x", "type": "quantitative", "title": "Annual Rainfall (mm)"},
           "color": {"field": "label", "type": "nominal",
             "legend": {"title": null, "orient": "bottom-right", "offset": 4.5, "labelFontSize": 6.2, "symbolSize": 81, "rowPadding": 1.5, "labelOffset": 6.7, "encode": {"symbols": {"update": {
               "shape": {"signal": "datum.value == '95% CI' ? 'M-1.6,-0.5H1.6V0.5H-1.6Z' : 'M-1.6,0H1.6'"},
               "fill": {"signal": "datum.value == '95% CI' ? '#117a5b' : 'transparent'"},
               "fillOpacity": {"value": 0.26},
               "stroke": {"signal": "datum.value == '95% CI' ? '#117a5b' : datum.value == 'PD effect' ? '#117a5b' : indexof(datum.value, 'Damage') == 0 ? '#ef4444' : '#4b5563'"},
               "strokeOpacity": {"signal": "datum.value == '95% CI' ? 0.25 : 1"},
               "strokeWidth": {"signal": "datum.value == 'PD effect' ? 1.8 : datum.value == '95% CI' ? 0.6 : 1.1"},
               "strokeDash": {"signal": "indexof(datum.value, 'UP') == 0 ? [3.5, 2] : indexof(datum.value, 'Damage') == 0 ? [1.2, 1.2] : [1, 0]"},
               "opacity": {"value": 1}}}}}}}},
        {"data": {"name": "refs"}, "transform": [{"filter": "datum.panel == 'ricerain' && datum.kind == 'damage'"}],
         "mark": {"type": "rule", "strokeDash": [1.5, 1.8], "strokeWidth": 1.1},
         "encoding": {"x": {"field": "x", "type": "quantitative", "title": "Annual Rainfall (mm)"},
           "color": {"field": "label", "type": "nominal",
             "legend": {"title": null, "orient": "bottom-right", "offset": 4.5, "labelFontSize": 6.2, "symbolSize": 81, "rowPadding": 1.5, "labelOffset": 6.7, "encode": {"symbols": {"update": {
               "shape": {"signal": "datum.value == '95% CI' ? 'M-1.6,-0.5H1.6V0.5H-1.6Z' : 'M-1.6,0H1.6'"},
               "fill": {"signal": "datum.value == '95% CI' ? '#117a5b' : 'transparent'"},
               "fillOpacity": {"value": 0.26},
               "stroke": {"signal": "datum.value == '95% CI' ? '#117a5b' : datum.value == 'PD effect' ? '#117a5b' : indexof(datum.value, 'Damage') == 0 ? '#ef4444' : '#4b5563'"},
               "strokeOpacity": {"signal": "datum.value == '95% CI' ? 0.25 : 1"},
               "strokeWidth": {"signal": "datum.value == 'PD effect' ? 1.8 : datum.value == '95% CI' ? 0.6 : 1.1"},
               "strokeDash": {"signal": "indexof(datum.value, 'UP') == 0 ? [3.5, 2] : indexof(datum.value, 'Damage') == 0 ? [1.2, 1.2] : [1, 0]"},
               "opacity": {"value": 1}}}}}}}}
      ]
    },
    {
      "width": 271, "height": 231,
      "title": {"text": "Maize — Max Temperature", "color": "#7c3aed", "fontSize": 8.7},
      "layer": [
        {"data": {"name": "maizemax"},
         "mark": {"type": "area", "interpolate": "monotone", "fillOpacity": 0.25, "stroke": "#7c3aed", "strokeOpacity": 0.2, "strokeWidth": 0.8, "clip": true},
         "encoding": {
           "x": {"field": "x", "type": "quantitative", "title": "Max Temperature (°C)", "scale": {"domain": [25.2, 42.14], "nice": false, "zero": false}, "axis": {"values": [26, 28, 30, 32, 34, 36, 38, 40], "format": "d", "labelOverlap": false}},
           "y": {"field": "lo", "type": "quantitative", "title": "Predicted Yield (q/ha)", "scale": {"domain": [104.3, 233.9], "nice": false, "zero": false}, "axis": {"values": [120, 140, 160, 180, 200, 220], "format": "d", "titlePadding": 4.5, "labelOverlap": false}},
           "y2": {"field": "hi"},
           "color": {"datum": "95% CI", "type": "nominal",
             "scale": {"domain": ["95% CI", "PD effect", "UP mean (33.0 °C)", "Damage threshold (34°C)"], "range": ["#7c3aed", "#7c3aed", "#4b5563", "#ef4444"]},
             "legend": {"title": null, "orient": "bottom-left", "offset": 4.5, "labelFontSize": 6.2, "symbolSize": 81, "rowPadding": 1.5, "labelOffset": 6.7, "encode": {"symbols": {"update": {
               "shape": {"signal": "datum.value == '95% CI' ? 'M-1.6,-0.5H1.6V0.5H-1.6Z' : 'M-1.6,0H1.6'"},
               "fill": {"signal": "datum.value == '95% CI' ? '#7c3aed' : 'transparent'"},
               "fillOpacity": {"value": 0.28},
               "stroke": {"signal": "datum.value == '95% CI' ? '#7c3aed' : datum.value == 'PD effect' ? '#7c3aed' : indexof(datum.value, 'Damage') == 0 ? '#ef4444' : '#4b5563'"},
               "strokeOpacity": {"signal": "datum.value == '95% CI' ? 0.25 : 1"},
               "strokeWidth": {"signal": "datum.value == 'PD effect' ? 1.8 : datum.value == '95% CI' ? 0.6 : 1.1"},
               "strokeDash": {"signal": "indexof(datum.value, 'UP') == 0 ? [3.5, 2] : indexof(datum.value, 'Damage') == 0 ? [1.2, 1.2] : [1, 0]"},
               "opacity": {"value": 1}}}}}}
         }},
        {"data": {"name": "maizemax"},
         "mark": {"type": "line", "interpolate": "monotone", "strokeWidth": 2, "clip": true},
         "encoding": {"x": {"field": "x", "type": "quantitative", "title": "Max Temperature (°C)"}, "y": {"field": "mean", "type": "quantitative", "title": "Predicted Yield (q/ha)"},
           "color": {"datum": "PD effect", "type": "nominal",
             "legend": {"title": null, "orient": "bottom-left", "offset": 4.5, "labelFontSize": 6.2, "symbolSize": 81, "rowPadding": 1.5, "labelOffset": 6.7, "encode": {"symbols": {"update": {
               "shape": {"signal": "datum.value == '95% CI' ? 'M-1.6,-0.5H1.6V0.5H-1.6Z' : 'M-1.6,0H1.6'"},
               "fill": {"signal": "datum.value == '95% CI' ? '#7c3aed' : 'transparent'"},
               "fillOpacity": {"value": 0.28},
               "stroke": {"signal": "datum.value == '95% CI' ? '#7c3aed' : datum.value == 'PD effect' ? '#7c3aed' : indexof(datum.value, 'Damage') == 0 ? '#ef4444' : '#4b5563'"},
               "strokeOpacity": {"signal": "datum.value == '95% CI' ? 0.25 : 1"},
               "strokeWidth": {"signal": "datum.value == 'PD effect' ? 1.8 : datum.value == '95% CI' ? 0.6 : 1.1"},
               "strokeDash": {"signal": "indexof(datum.value, 'UP') == 0 ? [3.5, 2] : indexof(datum.value, 'Damage') == 0 ? [1.2, 1.2] : [1, 0]"},
               "opacity": {"value": 1}}}}}}}},
        {"data": {"name": "refs"}, "transform": [{"filter": "datum.panel == 'maizemax' && datum.kind == 'mean'"}],
         "mark": {"type": "rule", "strokeDash": [5, 2.5], "strokeWidth": 1.3, "opacity": 0.85},
         "encoding": {"x": {"field": "x", "type": "quantitative", "title": "Max Temperature (°C)"},
           "color": {"field": "label", "type": "nominal",
             "legend": {"title": null, "orient": "bottom-left", "offset": 4.5, "labelFontSize": 6.2, "symbolSize": 81, "rowPadding": 1.5, "labelOffset": 6.7, "encode": {"symbols": {"update": {
               "shape": {"signal": "datum.value == '95% CI' ? 'M-1.6,-0.5H1.6V0.5H-1.6Z' : 'M-1.6,0H1.6'"},
               "fill": {"signal": "datum.value == '95% CI' ? '#7c3aed' : 'transparent'"},
               "fillOpacity": {"value": 0.28},
               "stroke": {"signal": "datum.value == '95% CI' ? '#7c3aed' : datum.value == 'PD effect' ? '#7c3aed' : indexof(datum.value, 'Damage') == 0 ? '#ef4444' : '#4b5563'"},
               "strokeOpacity": {"signal": "datum.value == '95% CI' ? 0.25 : 1"},
               "strokeWidth": {"signal": "datum.value == 'PD effect' ? 1.8 : datum.value == '95% CI' ? 0.6 : 1.1"},
               "strokeDash": {"signal": "indexof(datum.value, 'UP') == 0 ? [3.5, 2] : indexof(datum.value, 'Damage') == 0 ? [1.2, 1.2] : [1, 0]"},
               "opacity": {"value": 1}}}}}}}},
        {"data": {"name": "refs"}, "transform": [{"filter": "datum.panel == 'maizemax' && datum.kind == 'damage'"}],
         "mark": {"type": "rule", "strokeDash": [1.5, 1.8], "strokeWidth": 1.1},
         "encoding": {"x": {"field": "x", "type": "quantitative", "title": "Max Temperature (°C)"},
           "color": {"field": "label", "type": "nominal",
             "legend": {"title": null, "orient": "bottom-left", "offset": 4.5, "labelFontSize": 6.2, "symbolSize": 81, "rowPadding": 1.5, "labelOffset": 6.7, "encode": {"symbols": {"update": {
               "shape": {"signal": "datum.value == '95% CI' ? 'M-1.6,-0.5H1.6V0.5H-1.6Z' : 'M-1.6,0H1.6'"},
               "fill": {"signal": "datum.value == '95% CI' ? '#7c3aed' : 'transparent'"},
               "fillOpacity": {"value": 0.28},
               "stroke": {"signal": "datum.value == '95% CI' ? '#7c3aed' : datum.value == 'PD effect' ? '#7c3aed' : indexof(datum.value, 'Damage') == 0 ? '#ef4444' : '#4b5563'"},
               "strokeOpacity": {"signal": "datum.value == '95% CI' ? 0.25 : 1"},
               "strokeWidth": {"signal": "datum.value == 'PD effect' ? 1.8 : datum.value == '95% CI' ? 0.6 : 1.1"},
               "strokeDash": {"signal": "indexof(datum.value, 'UP') == 0 ? [3.5, 2] : indexof(datum.value, 'Damage') == 0 ? [1.2, 1.2] : [1, 0]"},
               "opacity": {"value": 1}}}}}}}}
      ]
    }
  ],
  "config": {
    "font": "DejaVu Sans",
    "view": {"fill": "#f8f9fd", "stroke": null},
    "axis": {"domainColor": "#c5cbd8", "domainWidth": 1, "tickColor": "#c5cbd8", "tickSize": 3.5, "tickCount": 20, "labelFontSize": 8, "labelColor": "#6b7280", "labelPadding": 2, "labelOverlap": false, "titleFontSize": 7.8, "titleFontWeight": "normal", "titleColor": "#374151", "gridColor": "#e8ebf1", "gridWidth": 0.7, "grid": true},
    "axisX": {"minExtent": 14, "maxExtent": 14, "titlePadding": 5.2, "tickCount": 20},
    "axisY": {"minExtent": 20, "maxExtent": 20, "labelPadding": 3.5, "tickCount": 20},
    "title": {"fontSize": 9.5, "fontWeight": "bold", "offset": 8, "baseline": "alphabetic", "anchor": "middle"},
    "legend": {"padding": 3.5, "offset": 3.5, "fillColor": "#ffffff", "strokeColor": "#d4d8e0", "cornerRadius": 2, "labelFontSize": 6.9, "labelColor": "#333333", "symbolSize": 100, "rowPadding": 2.2, "labelOffset": 6}
  }
}
